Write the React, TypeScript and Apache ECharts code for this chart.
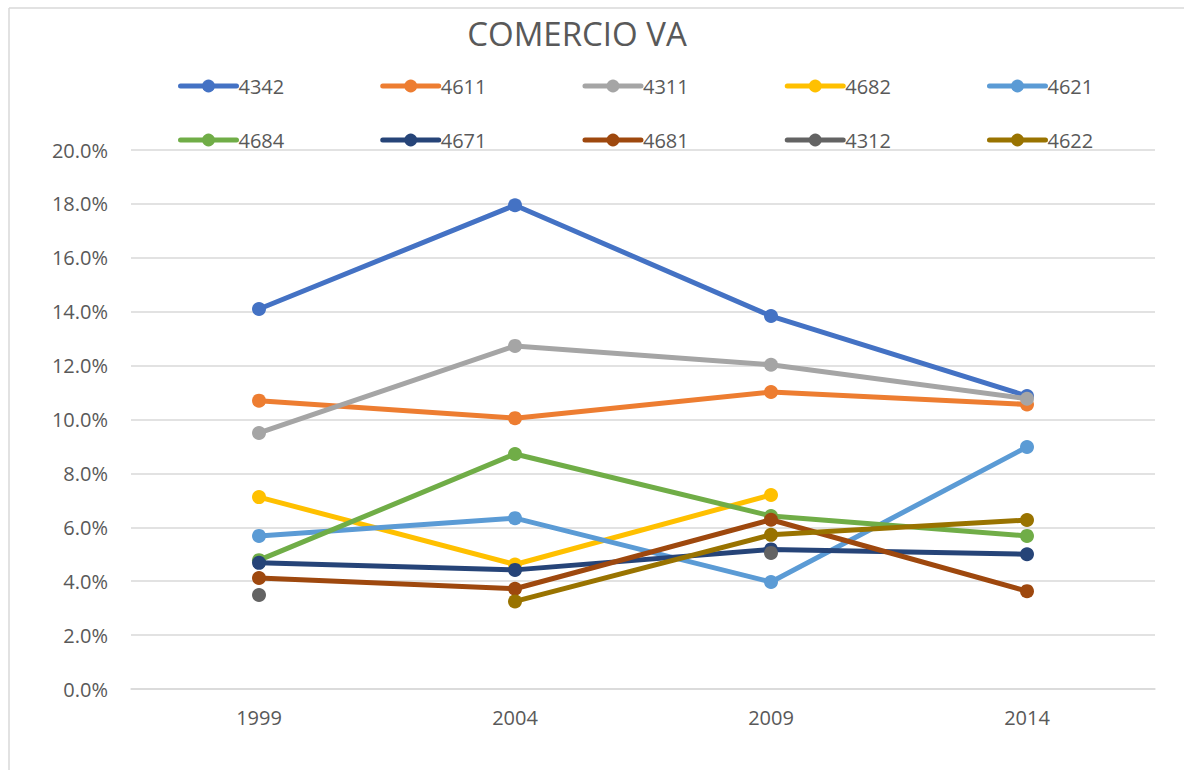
import React, { useEffect, useRef } from "react";
import * as echarts from "echarts";

const years = ["1999", "2004", "2009", "2014"];
const seriesNames = ["4342", "4611", "4311", "4682", "4621", "4684", "4671", "4681", "4312", "4622"];
const colors = ["#4472C4", "#ED7D31", "#A5A5A5", "#FFC000", "#5B9BD5", "#70AD47", "#264478", "#9E480E", "#636363", "#997300"];

const s4342 = [14.1, 17.95, 13.84, 10.87];
const s4611 = [10.7, 10.05, 11.02, 10.56];
const s4311 = [9.5, 12.73, 12.03, 10.77];
const s4682 = [7.12, 4.62, 7.2, null];
const s4621 = [5.68, 6.34, 3.97, 8.98];
const s4684 = [4.78, 8.72, 6.42, 5.68];
const s4671 = [4.68, 4.42, 5.18, 5.0];
const s4681 = [4.12, 3.72, 6.28, 3.63];
const s4312 = [3.49, null, 5.05, null];
const s4622 = [null, 3.25, 5.72, 6.27];

const seriesValues = [s4342, s4611, s4311, s4682, s4621, s4684, s4671, s4681, s4312, s4622];

const FONT = "'Open Sans', 'Noto Sans', sans-serif";
const TEXT = "#595959";
const GRID = "#D9D9D9";

export default function App() {
  const ref = useRef<HTMLDivElement>(null);
  useEffect(() => {
    document.body.style.margin = "0";
    const chart = echarts.init(ref.current!, null, { renderer: "svg" });
    const legendCommon = {
      orient: "horizontal" as const,
      itemWidth: 56,
      itemHeight: 16,
      itemGap: 96,
      lineStyle: { width: 5, cap: "round" },
      textStyle: { color: TEXT, fontSize: 20, fontFamily: FONT, padding: [0, 0, 0, -3] },
      padding: 0,
    };
    chart.setOption({
      animation: false,
      color: colors,
      title: {
        text: "COMERCIO VA",
        left: 572,
        top: 12,
        textAlign: "center",
        textStyle: { color: TEXT, fontSize: 33, fontWeight: "normal", fontFamily: FONT },
      },
      legend: [
        { ...legendCommon, data: seriesNames.slice(0, 5), left: 178, top: 76 },
        { ...legendCommon, data: seriesNames.slice(5), left: 178, top: 130 },
      ],
      grid: { left: 131, right: 29, top: 150, bottom: 81, containLabel: false },
      xAxis: {
        type: "category",
        data: years,
        boundaryGap: true,
        axisLine: { show: true, lineStyle: { color: GRID, width: 1.5 } },
        axisTick: { show: false },
        axisLabel: { color: TEXT, fontSize: 20, fontFamily: FONT, margin: 18 },
      },
      yAxis: {
        type: "value",
        min: 0,
        max: 20,
        interval: 2,
        axisLine: { show: false },
        axisTick: { show: false },
        splitLine: { lineStyle: { color: GRID, width: 1.5 } },
        axisLabel: {
          color: TEXT,
          fontSize: 20,
          fontFamily: FONT,
          margin: 23,
          formatter: (v: number) => v.toFixed(1) + "%",
        },
      },
      graphic: [
        { type: "line", shape: { x1: 9, y1: 8, x2: 9, y2: 770 }, style: { stroke: GRID, lineWidth: 1.5 } },
        { type: "line", shape: { x1: 9, y1: 8, x2: 1184, y2: 8 }, style: { stroke: GRID, lineWidth: 1.5 } },
      ],
      series: seriesNames.map((name, i) => ({
        name,
        type: "line",
        data: seriesValues[i],
        symbol: "circle",
        symbolSize: 14,
        showSymbol: true,
        connectNulls: false,
        lineStyle: { width: 5, color: colors[i], cap: "round" },
        itemStyle: { color: colors[i] },
        z: 2 + i,
      })),
    });
    return () => chart.dispose();
  }, []);
  return <div ref={ref} style={{ width: 1184, height: 770 }} />;
}
